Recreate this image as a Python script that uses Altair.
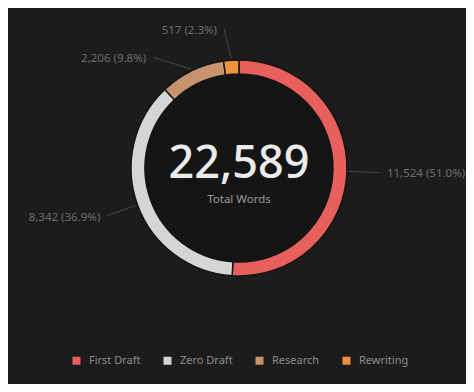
import math
import numpy as np
import pandas as pd
import altair as alt

# ---- data ----
categories = ["First Draft", "Zero Draft", "Research", "Rewriting"]
values = [11524, 8342, 2206, 517]
colors = ["#e8605c", "#d5d5d5", "#c6936e", "#f0923c"]
center_caption = "Total Words"

# ---- layout constants ----
W, H = 458, 376
CX, CY = 231, 160          # donut centre inside the chart
R_OUT, R_IN = 108, 94
R_LINE0, R_LINE1 = 110, 140
label_angle_shift_deg = [0, 0, -12, -2]   # label collision nudges (layout only)
FONT = "Noto Sans"

total = sum(values)
vals = np.array(values, dtype=float)
start = np.cumsum(vals) - vals
mid = (start + vals / 2) / total * 2 * math.pi
lab_ang = mid + np.radians(label_angle_shift_deg)

df = pd.DataFrame({
    "category": categories,
    "value": values,
    "order": list(range(len(values))),
    "label": [f"{v:,} ({v / total * 100:.1f}%)" for v in values],
    "x0": R_LINE0 * np.sin(mid),
    "y0": R_LINE0 * np.cos(mid),
    "x1": R_LINE1 * np.sin(lab_ang),
    "y1": R_LINE1 * np.cos(lab_ang),
})
df["side"] = np.where(df["x1"] >= 0, "right", "left")

xs = alt.Scale(domain=[-CX, W - CX], nice=False, zero=False)
ys = alt.Scale(domain=[-(H - CY), CY], nice=False, zero=False)

base = alt.Chart(df)

inner = base.mark_arc(radius=R_IN, theta=0, theta2=2 * math.pi,
                      fill="#151515", stroke=None).encode(
    x=alt.value(CX), y=alt.value(CY))

ring = base.mark_arc(outerRadius=R_OUT, innerRadius=R_IN,
                     stroke="#141414", strokeWidth=1.5).encode(
    theta=alt.Theta("value:Q", stack=True),
    order=alt.Order("order:Q"),
    color=alt.Color("category:N",
                    scale=alt.Scale(domain=categories, range=colors),
                    sort=categories,
                    legend=alt.Legend(title=None, orient="none",
                                      direction="horizontal",
                                      legendX=63, legendY=347,
                                      symbolType="square", symbolSize=64,
                                      symbolStrokeWidth=0,
                                      labelColor="#8c8c8c", labelFontSize=11,
                                      labelFont=FONT, columnPadding=21,
                                      labelOffset=7)),
    x=alt.value(CX), y=alt.value(CY),
)

lines = base.mark_rule(color="#474747", strokeWidth=1).encode(
    x=alt.X("x0:Q", scale=xs, axis=None),
    y=alt.Y("y0:Q", scale=ys, axis=None),
    x2="x1:Q", y2="y1:Q",
)

lab_r = base.transform_filter(alt.datum.side == "right").mark_text(
    align="left", baseline="middle", dx=8, dy=2, font=FONT, fontSize=11.5,
    color="#6e6e6e").encode(
    x=alt.X("x1:Q", scale=xs, axis=None),
    y=alt.Y("y1:Q", scale=ys, axis=None),
    text="label:N")

lab_l = base.transform_filter(alt.datum.side == "left").mark_text(
    align="right", baseline="middle", dx=-7, dy=2, font=FONT, fontSize=11.5,
    color="#6e6e6e").encode(
    x=alt.X("x1:Q", scale=xs, axis=None),
    y=alt.Y("y1:Q", scale=ys, axis=None),
    text="label:N")

total_df = pd.DataFrame({"t": [f"{total:,}"], "c": [center_caption]})
big = alt.Chart(total_df).mark_text(
    font=FONT, fontSize=45, fontWeight=500, color="#ececec",
    baseline="middle", align="center").encode(
    x=alt.value(CX), y=alt.value(CY - 4), text="t:N")
cap = alt.Chart(total_df).mark_text(
    font=FONT, fontSize=11.5, color="#9a9a9a",
    baseline="middle", align="center").encode(
    x=alt.value(CX), y=alt.value(CY + 32), text="c:N")

chart = alt.layer(inner, ring, lines, lab_r, lab_l, big, cap).properties(
    width=W, height=H, background="#1c1c1c", padding=0,
    autosize=alt.AutoSizeParams(type="none"),
).configure_view(stroke=None)

chart.save("out.html", embed_options={"renderer": "svg", "actions": False})
